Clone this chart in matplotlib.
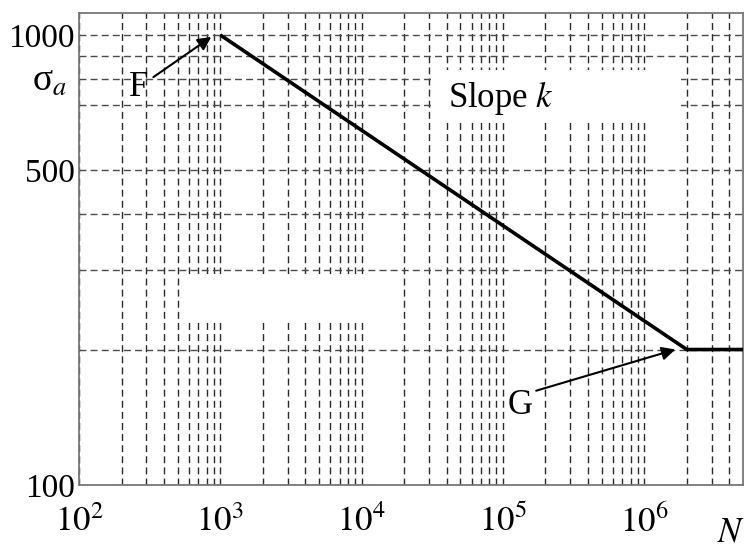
import matplotlib
matplotlib.use("Agg")
import matplotlib.pyplot as plt
from matplotlib.patches import Rectangle
import numpy as np

plt.rcParams['mathtext.fontset'] = 'stix'
plt.rcParams['font.family'] = ['Liberation Serif', 'DejaVu Serif']

# ---- data ----
curve_N = [1e3, 2e6, 5e6]
curve_sigma = [1000, 200, 200]
x_limits = [100, 5e6]
y_limits = [100, 1119]
x_major = [1e2, 1e3, 1e4, 1e5, 1e6]
x_major_labels = ['$10^{2}$', '$10^{3}$', '$10^{4}$', '$10^{5}$', '$10^{6}$']
x_minor = [m * 10.0 ** e for e in range(2, 7) for m in range(2, 10) if m * 10.0 ** e < 5e6]
y_major = [100, 500, 1000]
y_major_labels = ['100', '500', '1000']
y_minor = [200, 300, 400, 700, 800, 900]

# annotation anchors (data units)
F_text = (263, 763)
F_arrow_from = (336, 806)
F_arrow_to = (863, 990)
G_text = (1.33e5, 150)
G_arrow_from = (1.72e5, 162)
G_arrow_to = (1.66e6, 200)
slope_text = (4.1e4, 725)
# erased regions in the source (white boxes)
white_boxes = [((3.11e4, 637), (1.83e6, 836)), ((521, 232), (1.76e4, 295))]

W, H = 747, 548
fig = plt.figure(figsize=(W / 100, H / 100), dpi=100)
ax = fig.add_axes([79 / W, 1 - 485 / H, 664 / W, 472 / H])
ax.set_xscale('log')
ax.set_yscale('log')
ax.set_xlim(*x_limits)
ax.set_ylim(*y_limits)

ax.set_xticks(x_major)
ax.set_xticklabels(x_major_labels)
ax.set_xticks(x_minor, minor=True)
ax.set_xticklabels([], minor=True)
ax.set_yticks(y_major)
ax.set_yticklabels(y_major_labels)
ax.set_yticks(y_minor, minor=True)
ax.set_yticklabels([], minor=True)
ax.tick_params(which='both', length=0)
ax.tick_params(axis='x', labelsize=25, pad=15)
ax.tick_params(axis='y', labelsize=24, pad=3)

ax.grid(True, which='both', axis='x', color='#2a2a2a', linestyle=(0, (5, 3)), linewidth=1.0)
ax.grid(True, which='both', axis='y', color='#4a4a4a', linestyle=(0, (5, 3)), linewidth=1.0)
ax.set_axisbelow(True)

for s in ax.spines.values():
    s.set_color('#777777')
    s.set_linewidth(1.3)

for (x0, y0), (x1, y1) in white_boxes:
    ax.add_patch(Rectangle((x0, y0), x1 - x0, y1 - y0, facecolor='white',
                           edgecolor='none', zorder=1.5))

ax.plot(curve_N, curve_sigma, color='black', linewidth=2.6, zorder=3,
        solid_capstyle='butt')

arrow_kw = dict(arrowstyle='-|>', color='black', lw=1.5, mutation_scale=20,
                shrinkA=0, shrinkB=0)
ax.annotate('', xy=F_arrow_to, xytext=F_arrow_from, arrowprops=arrow_kw, zorder=4)
ax.annotate('', xy=G_arrow_to, xytext=G_arrow_from, arrowprops=arrow_kw, zorder=4)
ax.text(*F_text, 'F', fontsize=25, ha='center', va='center', zorder=4)
ax.text(*G_text, 'G', fontsize=25, ha='center', va='center', zorder=4)
ax.text(*slope_text, 'Slope $\\mathit{k}$', fontsize=25, ha='left', va='center', zorder=4)

fig.text(32 / W, 1 - 82 / H, 'σ$_{a}$', fontsize=27, ha='left', va='center')
fig.text(731 / W, 1 - 533 / H, '$\\mathit{N}$', fontsize=25, ha='center', va='center')

fig.savefig('out.png', dpi=100)
